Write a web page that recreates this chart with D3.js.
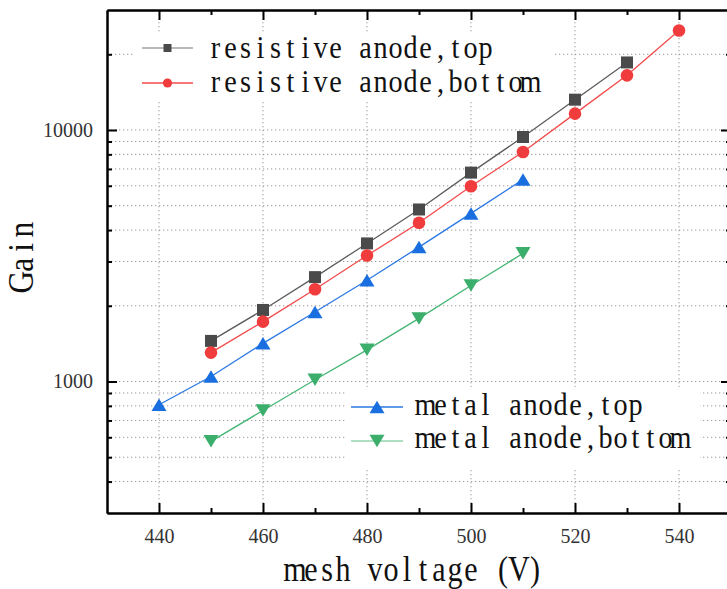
<!DOCTYPE html>
<html>
<head>
<meta charset="utf-8">
<script src="https://cdn.jsdelivr.net/npm/d3@7"></script>
<style>
  html, body { margin: 0; padding: 0; background: #fff; }
  svg { display: block; }
  .serif { font-family: "Liberation Serif", "DejaVu Serif", serif; }
</style>
</head>
<body>
<svg id="chart" width="727" height="589"></svg>
<script>
// Mesh voltage (V) and gain for each anode / readout configuration
const resTopVoltage = [450, 460, 470, 480, 490, 500, 510, 520, 530];
const resTopGain    = [1450, 1925, 2600, 3540, 4830, 6770, 9380, 13200, 18560];

const resBottomVoltage = [450, 460, 470, 480, 490, 500, 510, 520, 530, 540];
const resBottomGain    = [1303, 1730, 2326, 3168, 4275, 5978, 8179, 11615, 16490, 24860];

const metalTopVoltage = [440, 450, 460, 470, 480, 490, 500, 510];
const metalTopGain    = [808, 1047, 1418, 1890, 2526, 3423, 4660, 6357];

const metalBottomVoltage = [450, 460, 470, 480, 490, 500, 510];
const metalBottomGain    = [578, 767, 1016, 1336, 1782, 2408, 3232];

const xTickLabels = [440, 460, 480, 500, 520, 540];
const xMinorTicks = [450, 470, 490, 510, 530];
const yTickLabels = [1000, 10000];
const yMinorTicks = [400, 500, 600, 700, 800, 900, 2000, 3000, 4000, 5000, 6000, 7000, 8000, 9000, 20000];

const seriesNames = ["resistive anode,top", "resistive anode,bottom", "metal anode,top", "metal anode,bottom"];

const svg = d3.select("#chart");
const plotLeft = 107, plotRight = 731, plotTop = 10, plotBottom = 513;

const x = d3.scaleLinear().domain([430, 550]).range([plotLeft, plotRight]);
const y = d3.scaleLog().domain([300, 30000]).range([plotBottom, plotTop]);

// Monospace-style layout of serif glyphs: each character centred in a fixed cell
const measureCtx = document.createElement("canvas").getContext("2d");
function cellText(parent, str, x0, baseline, cell, size, sx) {
  measureCtx.font = `${size}px "Liberation Serif", "DejaVu Serif", serif`;
  const xs = [...str].map((ch, i) => {
    const w = measureCtx.measureText(ch).width;
    return ((i * cell) / sx + (cell / sx - w) / 2).toFixed(2);
  });
  return parent.append("text")
    .attr("class", "serif")
    .attr("transform", `translate(${x0},${baseline}) scale(${sx},1)`)
    .attr("x", xs.join(" "))
    .attr("y", 0)
    .style("font-size", size + "px")
    .attr("fill", "#111")
    .text(str);
}

// Grid
const grid = svg.append("g").attr("stroke", "#9a9a9a").attr("stroke-width", 1)
  .attr("stroke-dasharray", "1.3,2.7");
grid.selectAll("line.v").data(xTickLabels).join("line").attr("class", "v")
  .attr("x1", d => x(d)).attr("x2", d => x(d)).attr("y1", plotTop).attr("y2", plotBottom);
grid.selectAll("line.h").data(yTickLabels.concat(yMinorTicks)).join("line").attr("class", "h")
  .attr("x1", plotLeft).attr("x2", plotRight).attr("y1", d => y(d)).attr("y2", d => y(d));

// Legend backgrounds hide the grid behind them
svg.append("rect").attr("x", 135).attr("y", 33).attr("width", 418).attr("height", 67).attr("fill", "#fff");
svg.append("rect").attr("x", 345).attr("y", 387).attr("width", 355).attr("height", 82).attr("fill", "#fff");

// Axes (ticks point inward)
function styleAxis(g) {
  g.attr("font-family", null).attr("font-size", null);
  g.select(".domain").attr("stroke", "#000").attr("stroke-width", 2);
  g.selectAll(".tick line").attr("stroke", "#000").attr("stroke-width", 2);
  g.selectAll(".tick text").attr("class", "serif").style("font-size", "20px").attr("fill", "#333");
}
const fmt = d3.format("d");
svg.append("g").attr("transform", `translate(0,${plotBottom})`)
  .call(d3.axisBottom(x).tickValues(xTickLabels).tickSize(-10).tickSizeOuter(0).tickPadding(16).tickFormat(fmt))
  .call(styleAxis);
svg.append("g").attr("transform", `translate(0,${plotBottom})`)
  .call(d3.axisBottom(x).tickValues(xMinorTicks).tickSize(-5).tickSizeOuter(0).tickFormat(""))
  .call(styleAxis);
svg.append("g").attr("transform", `translate(0,${plotTop})`)
  .call(d3.axisTop(x).tickValues(xTickLabels).tickSize(-10).tickSizeOuter(0).tickFormat(""))
  .call(styleAxis);
svg.append("g").attr("transform", `translate(0,${plotTop})`)
  .call(d3.axisTop(x).tickValues(xMinorTicks).tickSize(-5).tickSizeOuter(0).tickFormat(""))
  .call(styleAxis);
svg.append("g").attr("transform", `translate(${plotLeft},0)`)
  .call(d3.axisLeft(y).tickValues(yTickLabels).tickSize(-10).tickSizeOuter(0).tickPadding(14).tickFormat(fmt))
  .call(styleAxis);
svg.append("g").attr("transform", `translate(${plotLeft},0)`)
  .call(d3.axisLeft(y).tickValues(yMinorTicks).tickSize(-5).tickSizeOuter(0).tickFormat(""))
  .call(styleAxis);
svg.append("g").attr("transform", `translate(${plotRight},0)`)
  .call(d3.axisRight(y).tickValues(yTickLabels).tickSize(-10).tickSizeOuter(0).tickFormat(""))
  .call(styleAxis);
svg.append("g").attr("transform", `translate(${plotRight},0)`)
  .call(d3.axisRight(y).tickValues(yMinorTicks).tickSize(-5).tickSizeOuter(0).tickFormat(""))
  .call(styleAxis);

// Axis titles
cellText(svg, "mesh voltage (V)", 287, 581, 16, 35, 0.86);
const gainG = svg.append("g").attr("transform", "translate(33,256) rotate(-90)");
cellText(gainG, "Gain", -35, 0, 17.5, 35, 0.9);

// Marker shapes
const triUp = { draw(ctx, size) { const w = 15, h = 12.5; ctx.moveTo(0, -h / 2); ctx.lineTo(w / 2, h / 2); ctx.lineTo(-w / 2, h / 2); ctx.closePath(); } };
const triDown = { draw(ctx, size) { const w = 15, h = 12.5; ctx.moveTo(0, h / 2); ctx.lineTo(w / 2, -h / 2); ctx.lineTo(-w / 2, -h / 2); ctx.closePath(); } };

const series = [
  { name: seriesNames[0], vx: resTopVoltage, vy: resTopGain, line: "#5c5c5c", fill: "#4a4a4a", sym: d3.symbolSquare, size: 144, legendLine: "#a3a3a3", legendSize: 64 },
  { name: seriesNames[1], vx: resBottomVoltage, vy: resBottomGain, line: "#f24a4a", fill: "#f03c3c", sym: d3.symbolCircle, size: Math.PI * 6.3 * 6.3, legendLine: "#f24a4a", legendSize: Math.PI * 4.6 * 4.6 },
  { name: seriesNames[2], vx: metalTopVoltage, vy: metalTopGain, line: "#2a78e4", fill: "#1a6fe0", sym: triUp, size: 1, legendLine: "#2a78e4", legendSize: 1 },
  { name: seriesNames[3], vx: metalBottomVoltage, vy: metalBottomGain, line: "#45b574", fill: "#3aae6a", sym: triDown, size: 1, legendLine: "#93d5ad", legendSize: 1 }
];

const line = d3.line().x(d => x(d[0])).y(d => y(d[1]));
series.forEach(s => {
  const pts = s.vx.map((v, i) => [v, s.vy[i]]);
  svg.append("path").datum(pts).attr("d", line)
    .attr("fill", "none").attr("stroke", s.line).attr("stroke-width", 1.3);
  svg.append("g").selectAll("path").data(pts).join("path")
    .attr("transform", d => `translate(${x(d[0])},${y(d[1])})`)
    .attr("d", d3.symbol(s.sym, s.size))
    .attr("fill", s.fill);
});

// Legends
const legendRows = [
  { s: series[0], lx0: 142, lx1: 193, ly: 48, tx: 208, tb: 58 },
  { s: series[1], lx0: 142, lx1: 193, ly: 83, tx: 208, tb: 92 },
  { s: series[2], lx0: 351, lx1: 403, ly: 407, tx: 418, tb: 415 },
  { s: series[3], lx0: 351, lx1: 403, ly: 441, tx: 418, tb: 448 }
];
legendRows.forEach(r => {
  const g = svg.append("g");
  g.append("line").attr("x1", r.lx0).attr("x2", r.lx1).attr("y1", r.ly).attr("y2", r.ly)
    .attr("stroke", r.s.legendLine).attr("stroke-width", 1.5);
  g.append("path").attr("transform", `translate(${(r.lx0 + r.lx1) / 2},${r.ly})`)
    .attr("d", d3.symbol(r.s.sym, r.s.legendSize)).attr("fill", r.s.fill);
  cellText(g, r.s.name, r.tx, r.tb, 15, 32, 0.88);
});
</script>
</body>
</html>
